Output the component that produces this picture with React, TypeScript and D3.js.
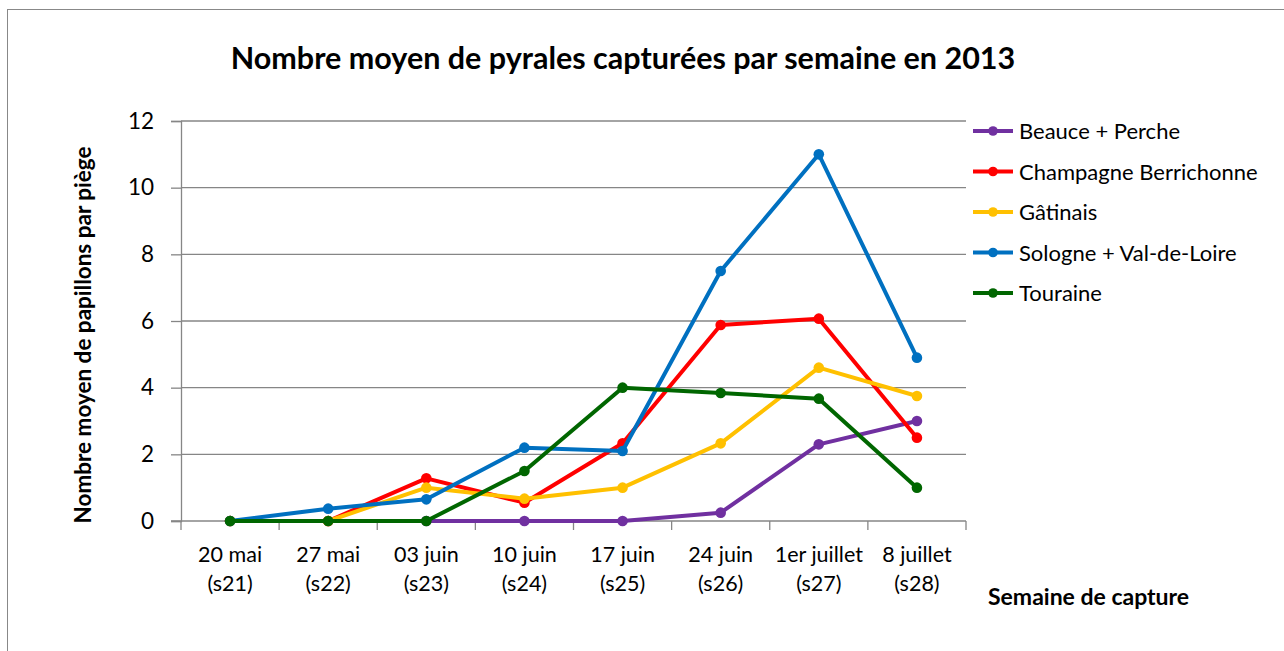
import { useEffect, useRef } from 'react'
import * as d3 from 'd3'

const weeks = ['20 mai', '27 mai', '03 juin', '10 juin', '17 juin', '24 juin', '1er juillet', '8 juillet']
const weekCodes = ['(s21)', '(s22)', '(s23)', '(s24)', '(s25)', '(s26)', '(s27)', '(s28)']
const yTicks = [0, 2, 4, 6, 8, 10, 12]

const seriesNames = ['Beauce + Perche', 'Champagne Berrichonne', 'Gâtinais', 'Sologne + Val-de-Loire', 'Touraine']
const beauce = [0, 0, 0, 0, 0, 0.25, 2.3, 3.0]
const champagne = [0, 0, 1.28, 0.55, 2.33, 5.88, 6.07, 2.5]
const gatinais = [0, 0, 1.0, 0.67, 1.0, 2.33, 4.6, 3.75]
const sologne = [0, 0.37, 0.65, 2.2, 2.1, 7.5, 11.0, 4.9]
const touraine = [0, 0, 0, 1.5, 4.0, 3.84, 3.67, 1.0]
const colors = ['#7030A0', '#FF0000', '#FFC000', '#0070C0', '#006600']

const FONT = 'Lato, "Open Sans", sans-serif'

export default function App() {
  const svgRef = useRef<SVGSVGElement>(null)

  useEffect(() => {
    if (!svgRef.current) return
    const root = d3.select(svgRef.current)
    root.selectAll('*').remove()

    const W = 1284
    const H = 651
    root.attr('width', W).attr('height', H)

    root.append('rect').attr('width', W).attr('height', H).attr('fill', '#fff')
    // chart frame
    root
      .append('rect')
      .attr('x', 7.5)
      .attr('y', 9.5)
      .attr('width', W + 10)
      .attr('height', H + 10)
      .attr('fill', 'none')
      .attr('stroke', '#888')
      .attr('stroke-width', 1)

    const left = 181
    const right = 966
    const top = 121
    const bottom = 521

    const x = d3.scaleBand().domain(weeks).range([left, right])
    const y = d3.scaleLinear().domain([0, 12]).range([bottom, top])
    const cx = (i: number) => (x(weeks[i]) as number) + x.bandwidth() / 2

    // title
    root
      .append('text')
      .attr('x', 623)
      .attr('y', 69)
      .attr('text-anchor', 'middle')
      .style('font-family', FONT)
      .style('font-weight', 'bold')
      .style('font-size', '30.5px')
      .text('Nombre moyen de pyrales capturées par semaine en 2013')

    // gridlines
    root
      .append('g')
      .selectAll('line')
      .data(yTicks.filter((d) => d > 0))
      .enter()
      .append('line')
      .attr('x1', left)
      .attr('x2', right)
      .attr('y1', (d) => y(d))
      .attr('y2', (d) => y(d))
      .attr('stroke', '#868686')
      .attr('stroke-width', 1.3)

    // y axis
    const yAxis = root
      .append('g')
      .attr('transform', `translate(${left},0)`)
      .call(d3.axisLeft(y).tickValues(yTicks).tickSize(10).tickPadding(17).tickFormat(d3.format('d')))
    yAxis.select('.domain').attr('stroke', '#868686').attr('stroke-width', 1.3)
    yAxis.selectAll('line').attr('stroke', '#868686').attr('stroke-width', 1.3)
    yAxis
      .selectAll('text')
      .style('font-family', FONT)
      .style('font-size', '22.5px')
      .attr('fill', '#000')

    // x axis
    const xAxis = root.append('g').attr('transform', `translate(0,${bottom})`)
    xAxis
      .append('line')
      .attr('x1', left - 10)
      .attr('x2', right)
      .attr('stroke', '#868686')
      .attr('stroke-width', 1.3)
    xAxis
      .selectAll('.tick')
      .data(d3.range(weeks.length + 1))
      .enter()
      .append('line')
      .attr('x1', (i) => left + i * x.step())
      .attr('x2', (i) => left + i * x.step())
      .attr('y1', 0)
      .attr('y2', 9)
      .attr('stroke', '#868686')
      .attr('stroke-width', 1.3)
    weeks.forEach((w, i) => {
      const t = xAxis
        .append('text')
        .attr('x', cx(i))
        .attr('text-anchor', 'middle')
        .style('font-family', FONT)
        .style('font-size', '21.5px')
      t.append('tspan').attr('x', cx(i)).attr('y', 41).text(w)
      t.append('tspan').attr('x', cx(i)).attr('y', 70).text(weekCodes[i])
    })

    // axis titles
    root
      .append('text')
      .attr('transform', `translate(91,${335}) rotate(-90)`)
      .attr('text-anchor', 'middle')
      .style('font-family', FONT)
      .style('font-weight', 'bold')
      .style('font-size', '22.5px')
      .text('Nombre moyen de papillons par piège')
    root
      .append('text')
      .attr('x', 988)
      .attr('y', 605)
      .style('font-family', FONT)
      .style('font-weight', 'bold')
      .style('font-size', '23px')
      .text('Semaine de capture')

    // series
    const allSeries = [beauce, champagne, gatinais, sologne, touraine]
    const line = d3
      .line<number>()
      .x((_, i) => cx(i))
      .y((d) => y(d))

    allSeries.forEach((values, s) => {
      const g = root.append('g')
      g.append('path')
        .attr('d', line(values))
        .attr('fill', 'none')
        .attr('stroke', colors[s])
        .attr('stroke-width', 4)
        .attr('stroke-linejoin', 'round')
      g.selectAll('circle')
        .data(values)
        .enter()
        .append('circle')
        .attr('cx', (_, i) => cx(i))
        .attr('cy', (d) => y(d))
        .attr('r', 5.3)
        .attr('fill', colors[s])
    })

    // legend
    const legend = root.append('g').attr('transform', 'translate(973,131)')
    seriesNames.forEach((name, i) => {
      const row = legend.append('g').attr('transform', `translate(0,${i * 40.5})`)
      row.append('line').attr('x1', 0).attr('x2', 40).attr('stroke', colors[i]).attr('stroke-width', 4)
      row.append('circle').attr('cx', 20).attr('r', 4.8).attr('fill', colors[i])
      row
        .append('text')
        .attr('x', 46)
        .attr('y', 8)
        .style('font-family', FONT)
        .style('font-size', '22px')
        .text(name)
    })
  }, [])

  return (
    <div style={{ position: 'absolute', left: 0, top: 0 }}>
      <svg ref={svgRef} style={{ display: 'block' }}></svg>
    </div>
  )
}
